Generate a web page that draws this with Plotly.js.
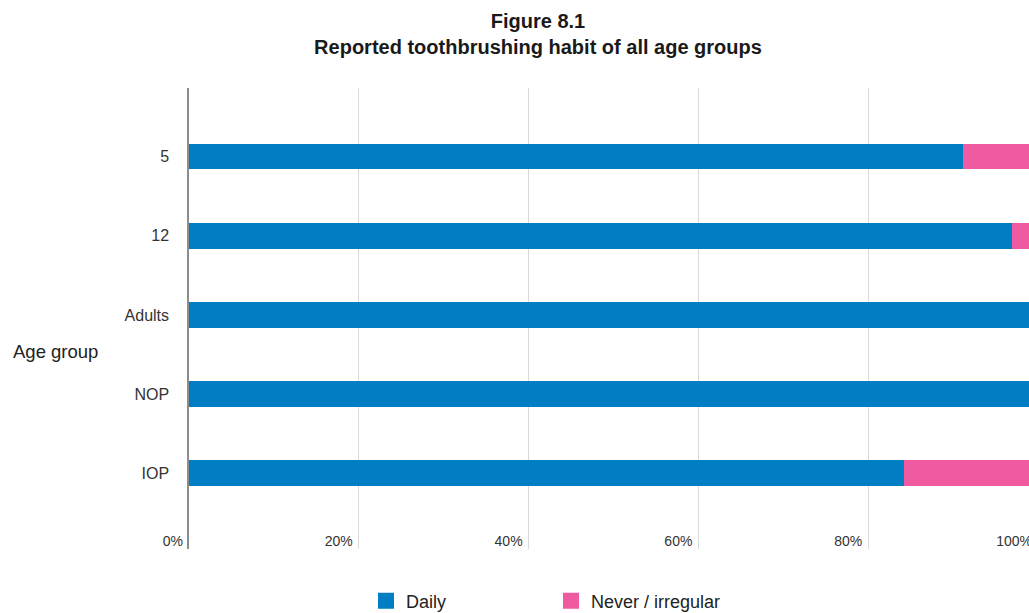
<!DOCTYPE html>
<html>
<head>
<meta charset="utf-8">
<script src="https://cdn.plot.ly/plotly-3.0.1.min.js"></script>
<style>
html,body{margin:0;padding:0;overflow:hidden;background:#fff;}
#chart{width:1045px;height:613px;}
</style>
</head>
<body>
<div id="chart"></div>
<script>
const categories = ['5', '12', 'Adults', 'NOP', 'IOP'];
const daily = [91.2, 96.9, 99.5, 99.6, 84.2];
const neverIrregular = [8.8, 3.1, 0.5, 0.4, 15.8];
const seriesNames = ['Daily', 'Never / irregular'];
const seriesColors = ['#007dc3', '#ef5aa1'];
const xTickVals = [0, 20, 40, 60, 80, 100];
const xTickText = ['0%', '20%', '40%', '60%', '80%', '100%'];

const W = 1045, H = 613;
const font = 'Liberation Sans, Arial, sans-serif';

const seriesValues = [daily, neverIrregular];
const traces = seriesValues.map((vals, i) => ({
  type: 'bar',
  orientation: 'h',
  y: categories,
  x: vals,
  name: seriesNames[i],
  marker: {color: seriesColors[i], line: {width: 0}},
  width: 0.32,
  showlegend: false,
  hoverinfo: 'x+y'
}));
seriesNames.forEach((n, i) => traces.push({
  type: 'scatter', mode: 'markers', x: [null], y: [null], name: n,
  marker: {symbol: 'square', size: 19, color: seriesColors[i]},
  showlegend: true, hoverinfo: 'skip'
}));

const layout = {
  width: W, height: H,
  margin: {l: 189, r: 7, t: 88, b: 64},
  paper_bgcolor: '#ffffff', plot_bgcolor: '#ffffff',
  font: {family: font, color: '#222'},
  barmode: 'stack',
  title: {
    text: '<b>Figure 8.1</b><br><b>Reported toothbrushing habit of all age groups</b>',
    font: {family: font, size: 20, color: '#1a1a1a'},
    xref: 'container', x: 538 / W, xanchor: 'center',
    yref: 'container', y: 1 - 28 / H, yanchor: 'top'
  },
  xaxis: {
    range: [0, 100],
    tickvals: xTickVals, ticktext: xTickText,
    showgrid: true, gridcolor: '#d9d9d9', gridwidth: 1,
    zeroline: false, showline: false,
    ticks: '',
    ticklabelposition: 'inside left',
    ticklabeloverflow: 'allow',
    ticklabelstandoff: -6,
    ticklabelshift: -6,
    tickfont: {family: font, size: 14, color: '#333'},
    fixedrange: true
  },
  yaxis: {
    type: 'category',
    categoryorder: 'array', categoryarray: categories,
    range: [4.96, -0.87],
    showline: true, linecolor: '#8c8c8c', linewidth: 1.5,
    showgrid: false, zeroline: false,
    ticks: 'outside', ticklen: 15, tickcolor: 'rgba(0,0,0,0)',
    tickfont: {family: font, size: 16, color: '#333'},
    fixedrange: true
  },
  legend: {
    orientation: 'h',
    traceorder: 'normal',
    xref: 'container', yref: 'container',
    x: 366 / W, xanchor: 'left',
    y: 1 - 601 / H, yanchor: 'middle',
    entrywidth: 140, entrywidthmode: 'pixels',
    font: {family: font, size: 18, color: '#222'},
    bgcolor: 'rgba(0,0,0,0)'
  },
  annotations: [{
    text: 'Age group', xref: 'paper', yref: 'paper',
    x: (11 - 189) / 849, xanchor: 'left',
    y: (549 - 351) / 461, yanchor: 'middle',
    showarrow: false,
    font: {family: font, size: 18.5, color: '#222'}
  }]
};

Plotly.newPlot('chart', traces, layout, {displayModeBar: false, responsive: false});
</script>
</body>
</html>
